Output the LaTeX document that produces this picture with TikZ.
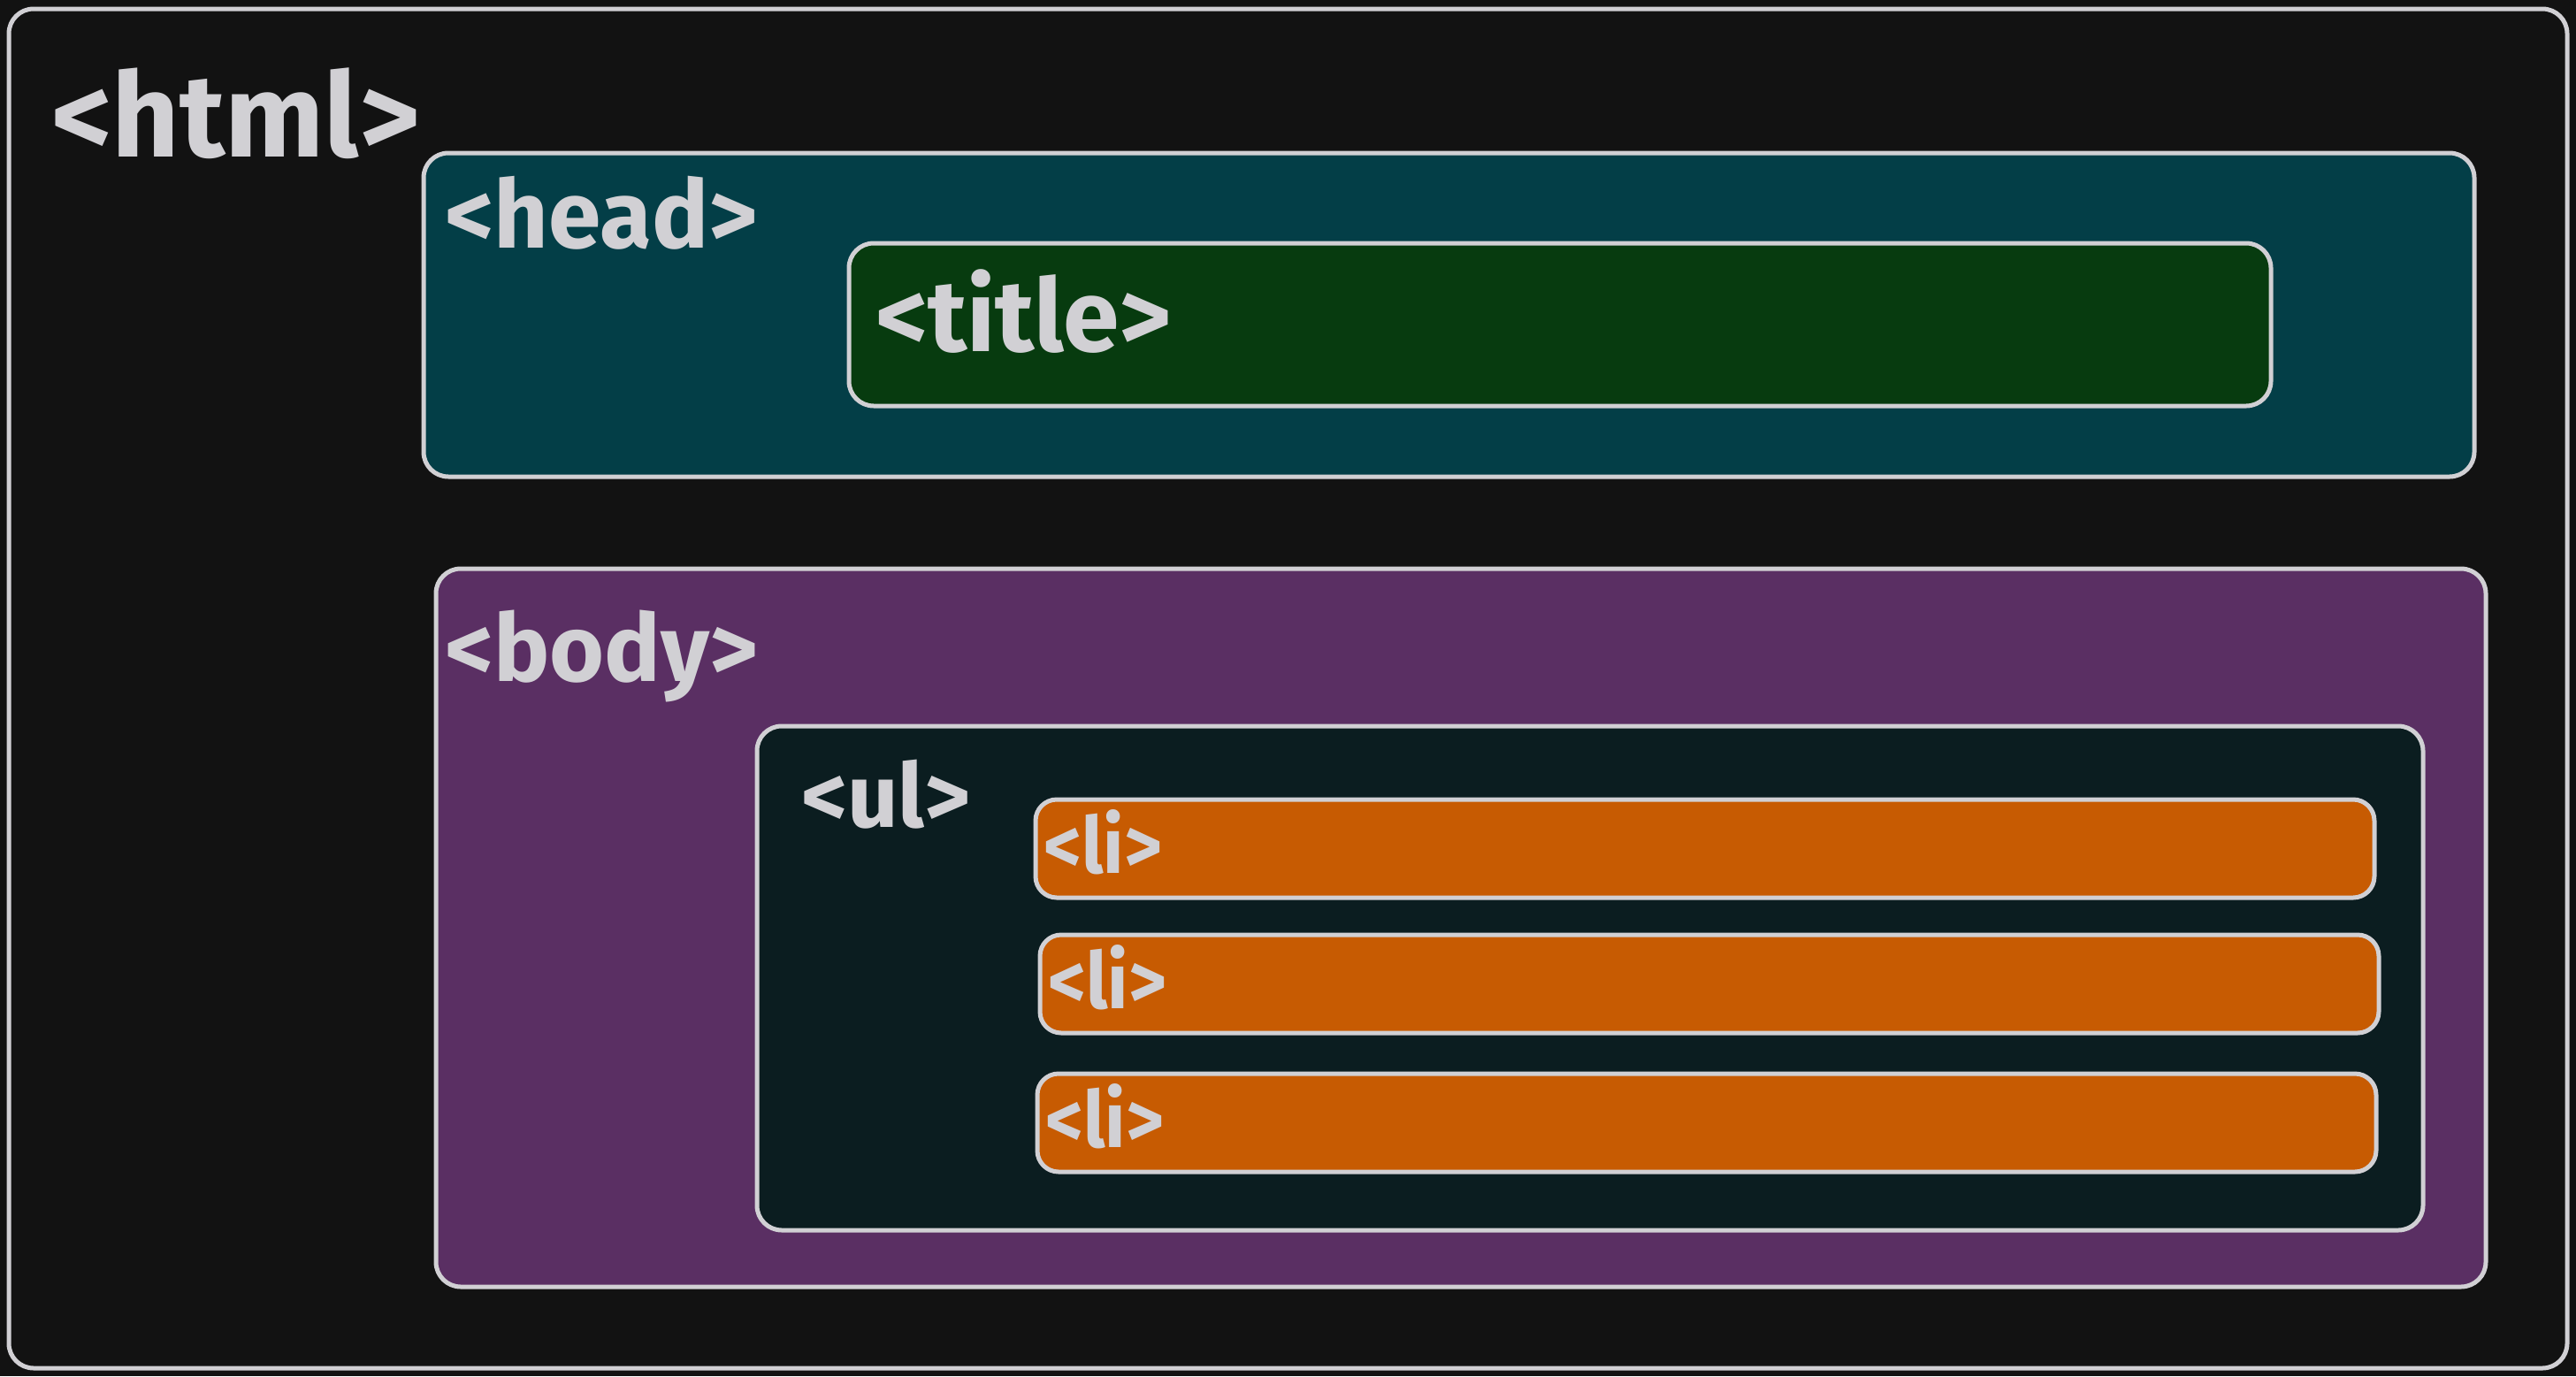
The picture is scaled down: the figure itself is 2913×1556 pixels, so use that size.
\documentclass[tikz,border=0pt]{standalone}
\usepackage{fontspec}
\setmainfont{Fira Sans}
\usepackage{graphicx}
\definecolor{bgc}{RGB}{18,18,18}
\definecolor{inkc}{RGB}{209,208,212}
\definecolor{headc}{RGB}{3,62,71}
\definecolor{titlec}{RGB}{7,59,15}
\definecolor{bodyc}{RGB}{90,47,99}
\definecolor{ulc}{RGB}{11,29,32}
\definecolor{lic}{RGB}{199,91,2}
\begin{document}
\begin{tikzpicture}[x=1pt,y=-1pt,
  box/.style={draw=inkc, line width=5pt, rounded corners=28pt, rectangle, inner sep=0pt, outer sep=0pt},
  tag/.style={inner sep=0pt, outer sep=0pt, anchor=base west, text=inkc, font=\bfseries}]
\fill[bgc] (0,0) rectangle (2913,1556);
\useasboundingbox (0,0) rectangle (2913,1556);
% boxes
\node[box, fill=bgc, minimum width=2893pt, minimum height=1537pt] (html) at (1456.5,778.5) {};
\node[box, fill=headc, minimum width=2319pt, minimum height=366pt] (head) at (1638.5,356) {};
\node[box, fill=titlec, minimum width=1608pt, minimum height=184pt] (title) at (1764,367) {};
\node[box, fill=bodyc, minimum width=2318pt, minimum height=812pt] (body) at (1652,1049) {};
\node[box, fill=ulc, minimum width=1884pt, minimum height=570pt] (ul) at (1798,1106) {};
\node[box, fill=lic, rounded corners=24pt, minimum width=1514pt, minimum height=111pt] (li1) at (1928,959.5) {};
\node[box, fill=lic, rounded corners=24pt, minimum width=1514pt, minimum height=111pt] (li2) at (1933,1112.5) {};
\node[box, fill=lic, rounded corners=24pt, minimum width=1514pt, minimum height=111pt] (li3) at (1930,1269.5) {};
% labels
\node[tag] (thtml) at (58,177) {\resizebox{417pt}{!}{<html>}};
\node[tag] (thead) at (503,280) {\resizebox{354pt}{!}{<head>}};
\node[tag] (ttitle) at (990,397) {\resizebox{335pt}{!}{<title>}};
\node[tag] (tbody) at (503,770) {\resizebox{354pt}{!}{<body>}};
\node[tag] (tul) at (906,935) {\resizebox{192pt}{!}{<ul>}};
\node[tag] (tli1) at (1180,987) {\resizebox{134pt}{72pt}{<li>}};
\node[tag] (tli2) at (1185,1140) {\resizebox{134pt}{72pt}{<li>}};
\node[tag] (tli3) at (1182,1297) {\resizebox{134pt}{72pt}{<li>}};
\end{tikzpicture}
\end{document}
